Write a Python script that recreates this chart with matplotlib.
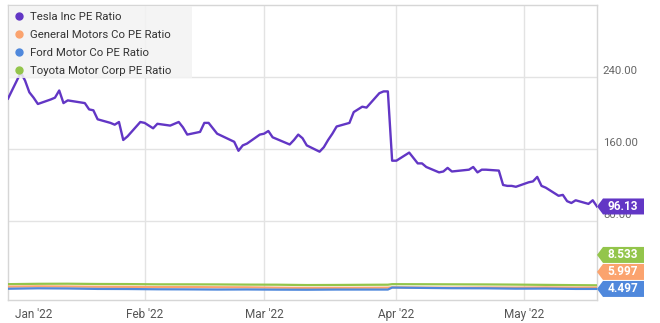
import numpy as np
import pandas as pd
import matplotlib
matplotlib.use('Agg')
import matplotlib.pyplot as plt
from matplotlib.patches import Polygon, Rectangle
from matplotlib.lines import Line2D

plt.rcParams['font.family'] = ['Roboto', 'DejaVu Sans']

# trading days Dec 31 2021 .. May 18 2022
holidays = ['2022-01-17', '2022-02-21', '2022-04-15']
tesla_dates = pd.bdate_range('2021-12-31', '2022-05-18', freq='C', holidays=holidays)

tesla_pe = [216,
            245, 236, 223, 217, 210, 215, 217, 225, 211, 214, 211, 204, 203, 193, 189, 187, 190, 170, 174, 190,
            189, 186, 183, 188, 186, 188, 190, 184, 176, 179, 189, 189, 183, 177, 168, 158, 164, 166, 176,
            177, 180, 173, 171, 165, 170, 176, 172, 164, 157, 162, 170, 177, 185, 189, 201, 204, 207, 206, 222, 224, 224, 147,
            147, 156, 150, 144, 144, 140, 134, 135, 139, 135, 137, 140, 134, 137, 137, 136, 120, 119, 119, 118,
            123, 124, 129, 119, 117, 108, 109, 102, 100, 103, 99, 103, 96.13]

weekly_dates = pd.to_datetime(['2021-12-31', '2022-01-07', '2022-01-14', '2022-01-21', '2022-01-28',
                               '2022-02-04', '2022-02-11', '2022-02-18', '2022-02-25', '2022-03-04',
                               '2022-03-11', '2022-03-18', '2022-03-25', '2022-03-30', '2022-03-31',
                               '2022-04-08', '2022-04-14', '2022-04-22', '2022-04-29', '2022-05-06',
                               '2022-05-13', '2022-05-18'])
toyota_pe = [9.8, 10.2, 10.3, 10.0, 9.9, 9.6, 9.6, 9.5, 9.3, 9.2, 8.8, 8.9, 9.1, 9.2, 9.8,
             9.7, 9.6, 9.5, 9.3, 9.0, 8.7, 8.533]
gm_pe = [7.0, 7.4, 7.2, 6.9, 6.8, 6.5, 6.6, 6.4, 6.3, 5.9, 5.6, 5.7, 5.8, 5.9, 6.3,
         6.0, 5.9, 6.1, 6.0, 6.2, 5.9, 5.997]
ford_pe = [4.7, 5.2, 5.0, 4.5, 4.4, 4.1, 4.0, 3.8, 3.9, 3.7, 3.6, 3.8, 3.8, 3.8, 6.0,
           5.6, 5.3, 5.2, 4.8, 4.9, 4.5, 4.497]

names = ['Tesla Inc PE Ratio', 'General Motors Co PE Ratio', 'Ford Motor Co PE Ratio',
         'Toyota Motor Corp PE Ratio']
colors = ['#6236c5', '#fba36e', '#4f88dc', '#93c54b']
last_labels = ['96.13', '5.997', '4.497', '8.533']

W, H = 660, 323
fig = plt.figure(figsize=(W / 100, H / 100), dpi=100)
ax = fig.add_axes([8 / W, 23 / H, 589 / W, 295 / H])

ax.plot(weekly_dates, toyota_pe, color=colors[3], lw=1.6, zorder=3)
ax.plot(weekly_dates, gm_pe, color=colors[1], lw=1.6, zorder=3)
ax.plot(weekly_dates, ford_pe, color=colors[2], lw=1.6, zorder=3)
ax.plot(tesla_dates, tesla_pe, color=colors[0], lw=1.7, zorder=4)

ax.set_xlim(pd.Timestamp('2021-12-31'), pd.Timestamp('2022-05-18'))
ax.set_ylim(-7.8, 320)

# grid
months = pd.to_datetime(['2022-02-01', '2022-03-01', '2022-04-01', '2022-05-01'])
for m in months:
    ax.axvline(m, color='#e3e3e3', lw=1, zorder=1)
for v in [80, 160, 240]:
    ax.axhline(v, color='#e3e3e3', lw=1, zorder=1)
    ax.text(1.01, v + 1, '%.2f' % v, transform=ax.get_yaxis_transform(), ha='left', va='bottom',
            fontsize=8.2, color='#666666', clip_on=False)

ax.set_yticks([])
xt = [pd.Timestamp('2022-01-06')] + list(months)
ax.set_xticks(xt)
ax.set_xticklabels(["Jan '22", "Feb '22", "Mar '22", "Apr '22", "May '22"], fontsize=8.5, color='#555555')
ax.tick_params(axis='x', length=0, pad=6)
for s in ax.spines.values():
    s.set_color('#d6d6d6')
    s.set_linewidth(1)

# legend with a wider light box behind it
ax.add_patch(Rectangle((9 / W, (H - 78) / H), 183 / W, 72 / H, transform=fig.transFigure,
                       facecolor='#f3f3f3', edgecolor='none', alpha=0.85, zorder=4.5))
handles = [Line2D([], [], marker='o', ls='none', color=c, markersize=5) for c in colors]
leg = ax.legend(handles, names, loc='upper left', bbox_to_anchor=(0.002, 0.997), borderaxespad=0,
                fontsize=8.2, frameon=False, handlelength=0.8, handletextpad=0.5,
                labelspacing=0.72, borderpad=0.5)
leg.set_zorder(5)
for t in leg.get_texts():
    t.set_color('#333333')


# value tags on the right
def tag(ypix, text, color):
    x0 = ax.get_position().x1 * W
    pts = [(x0, ypix), (x0 + 6, ypix + 8), (x0 + 47, ypix + 8), (x0 + 47, ypix - 8), (x0 + 6, ypix - 8)]
    pts = [(px / W, py / H) for px, py in pts]
    fig.patches.append(Polygon(pts, closed=True, transform=fig.transFigure, facecolor=color,
                               edgecolor='none'))
    fig.text((x0 + 26) / W, ypix / H, text, ha='center', va='center', color='white',
             fontsize=8.5, fontweight='bold')


def ypix_of(v):
    return ax.transData.transform((0, v))[1] * H / fig.bbox.height


tag(ypix_of(tesla_pe[-1]), last_labels[0], colors[0])
bottom = ax.get_position().y0 * H
y_ford = max(ypix_of(ford_pe[-1]), bottom + 7)
y_gm = max(ypix_of(gm_pe[-1]), y_ford + 17)
y_toy = max(ypix_of(toyota_pe[-1]), y_gm + 17)
tag(y_ford, last_labels[2], colors[2])
tag(y_gm, last_labels[1], colors[1])
tag(y_toy, last_labels[3], colors[3])

fig.savefig('out.png', dpi=100)
